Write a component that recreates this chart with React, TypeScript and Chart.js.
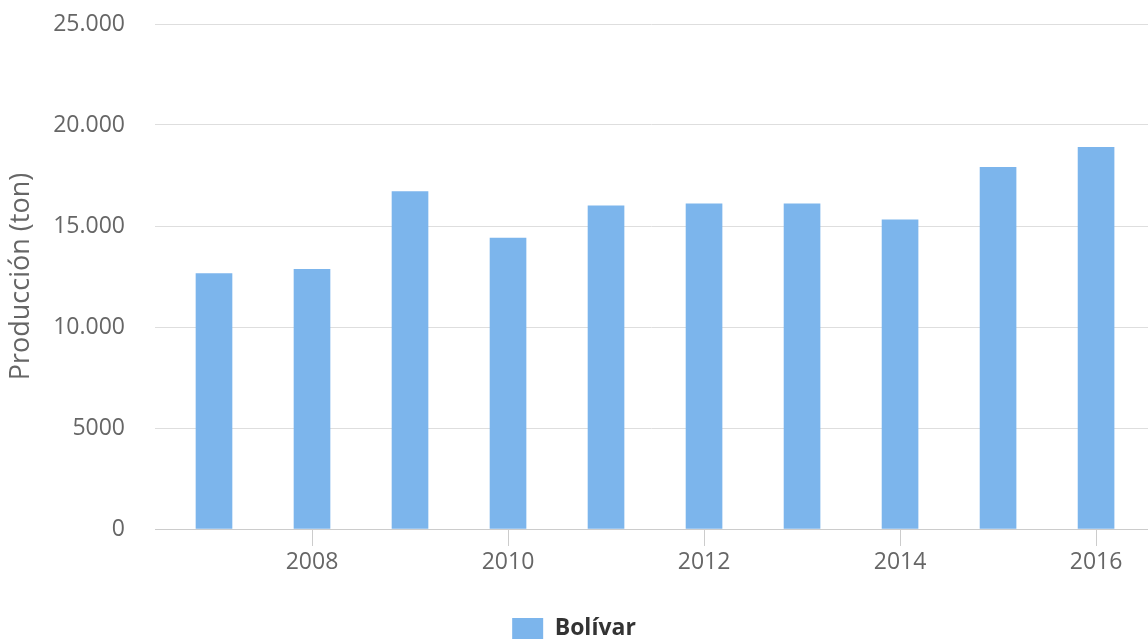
import { useEffect, useRef } from "react";
import { Chart, registerables } from "chart.js";

Chart.register(...registerables);

const years = [2007, 2008, 2009, 2010, 2011, 2012, 2013, 2014, 2015, 2016];
const production = [12650, 12850, 16700, 14400, 16000, 16100, 16100, 15300, 17900, 18900];
const xTickYears = [2008, 2010, 2012, 2014, 2016];
const yTickValues = [0, 5000, 10000, 15000, 20000, 25000];
const seriesLabel = "Bolívar";
const yTitle = "Producción (ton)";

const FONT = "'Open Sans', sans-serif";

function formatY(v: number): string {
  if (v >= 10000) {
    const th = Math.floor(v / 1000);
    const rest = String(v % 1000).padStart(3, "0");
    return `${th}.${rest}`;
  }
  return String(v);
}

export default function App() {
  const ref = useRef<HTMLCanvasElement | null>(null);

  useEffect(() => {
    const canvas = ref.current;
    if (!canvas) return;
    const chart = new Chart(canvas, {
      type: "bar",
      data: {
        datasets: [
          {
            label: seriesLabel,
            data: years.map((y, i) => ({ x: y, y: production[i] })),
            backgroundColor: "#7cb5ec",
            borderWidth: 0,
            barThickness: 36,
          },
        ],
      },
      options: {
        animation: false,
        responsive: true,
        maintainAspectRatio: false,
        layout: { padding: { top: 24, left: 0, right: 0, bottom: 0 } },
        plugins: {
          tooltip: { enabled: false },
          legend: {
            display: true,
            position: "bottom",
            labels: {
              boxWidth: 31,
              boxHeight: 21,
              padding: 10,
              color: "#333333",
              font: { family: FONT, size: 23, weight: "bold" },
            },
          },
        },
        scales: {
          x: {
            type: "linear",
            offset: false,
            min: 2006.398,
            max: 2016.53,
            afterBuildTicks: (scale: any) => {
              scale.ticks = xTickYears.map((v) => ({ value: v }));
            },
            afterFit: (scale: any) => {
              scale.height = 78;
            },
            ticks: {
              color: "#666666",
              font: { family: FONT, size: 23 },
              padding: 3,
              maxRotation: 0,
              autoSkip: false,
              callback: (v: any) => String(v),
            },
            grid: {
              display: true,
              offset: false,
              drawOnChartArea: false,
              drawTicks: true,
              tickLength: 17,
              tickColor: "#cccccc",
              color: "#cccccc",
            },
            border: { display: true, color: "#cccccc", width: 1 },
          },
          y: {
            min: 0,
            max: 25000,
            afterBuildTicks: (scale: any) => {
              scale.ticks = yTickValues.map((v) => ({ value: v }));
            },
            afterFit: (scale: any) => {
              scale.width = 155;
            },
            ticks: {
              color: "#666666",
              font: { family: FONT, size: 23 },
              padding: 0,
              callback: (v: any) => formatY(Number(v)),
            },
            grid: {
              color: "#dedede",
              drawTicks: true,
              tickLength: 30,
              tickColor: "rgba(0,0,0,0)",
            },
            border: { display: false },
            title: {
              display: true,
              text: yTitle,
              color: "#666666",
              font: { family: FONT, size: 27 },
              padding: { top: 5, bottom: 0 },
            },
          },
        },
      },
    });
    return () => chart.destroy();
  }, []);

  return (
    <div style={{ position: "fixed", left: 0, top: 0, width: 1148, height: 650, background: "#ffffff" }}>
      <canvas ref={ref} />
    </div>
  );
}
